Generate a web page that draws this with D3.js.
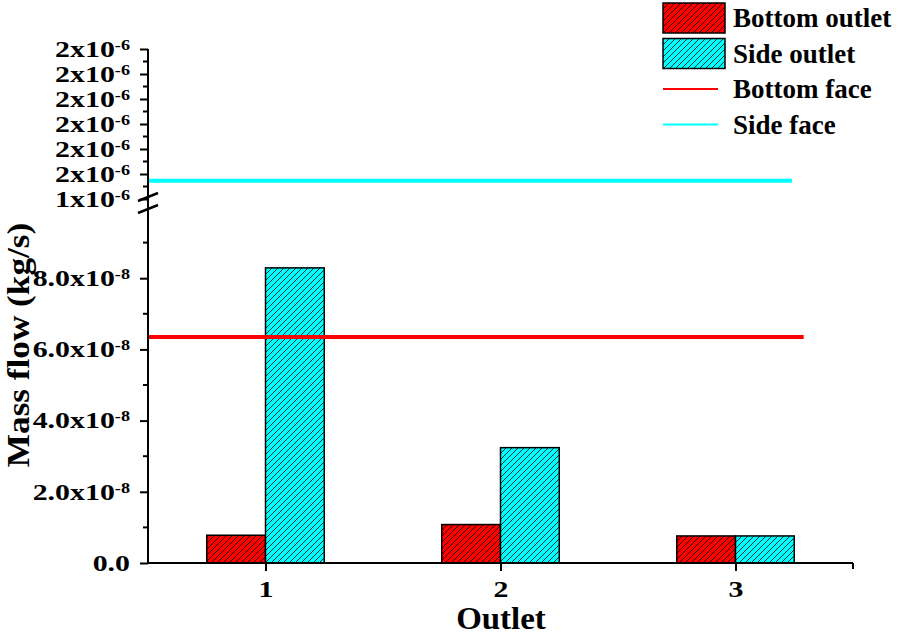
<!DOCTYPE html>
<html>
<head>
<meta charset="utf-8">
<script src="https://cdn.jsdelivr.net/npm/d3@7"></script>
<style>
  body { margin: 0; background: #fff; }
  text { font-family: "Liberation Serif", "Times New Roman", serif; font-weight: bold; fill: #000; }
</style>
</head>
<body>
<script>
const categories = [1, 2, 3]
const seriesNames = ['Bottom outlet', 'Side outlet']
const bottomOutlet = [7.8e-9, 1.08e-8, 7.6e-9]
const sideOutlet = [8.29e-8, 3.24e-8, 7.6e-9]
const bottomFace = [6.35e-8, 6.35e-8]
const bottomFaceX = [0.5, 3.29]
const sideFace = [1.473e-6, 1.473e-6]
const sideFaceX = [0.5, 3.24]
const lowTicks = [0, 2e-8, 4e-8, 6e-8, 8e-8]
const lowMinor = [1e-8, 3e-8, 5e-8, 7e-8, 9e-8]
const highTicks = [1.4e-6, 1.5e-6, 1.6e-6, 1.7e-6, 1.8e-6, 1.9e-6, 2.0e-6]
const highMinor = [1.45e-6, 1.55e-6, 1.65e-6, 1.75e-6, 1.85e-6, 1.95e-6]

const d3 = window.d3
const width = 898
const height = 636
const sx = 1.3 // the original fonts are drawn a bit wide

const xScale = d3.scaleLinear().domain([0.5, 3.5]).range([148, 853])
const yLow = d3.scaleLinear().domain([0, 1e-7]).range([563, 207])
const yHigh = d3.scaleLinear().domain([1.4e-6, 2.0e-6]).range([199, 49])
const yVal = (v) => v <= 1e-7 ? yLow(v) : yHigh(v)
const barW = 0.25

const svg = d3.select('body').append('svg')
  .attr('width', width)
  .attr('height', height)

const defs = svg.append('defs')
function hatch (id, color) {
  const p = defs.append('pattern')
    .attr('id', id)
    .attr('patternUnits', 'userSpaceOnUse')
    .attr('width', 6)
    .attr('height', 6)
  p.append('rect').attr('width', 6).attr('height', 6).attr('fill', color)
  p.append('path')
    .attr('d', 'M-1,1 l2,-2 M0,6 l6,-6 M5,7 l2,-2')
    .attr('stroke', '#000')
    .attr('stroke-width', 0.8)
}
hatch('hRed', '#ff0000')
hatch('hCyan', '#00ffff')

// bars
const barData = []
categories.forEach((c, i) => {
  barData.push({ x0: c - barW, v: bottomOutlet[i], fill: 'url(#hRed)' })
  barData.push({ x0: c, v: sideOutlet[i], fill: 'url(#hCyan)' })
})
svg.append('g').selectAll('rect')
  .data(barData)
  .join('rect')
  .attr('x', (d) => xScale(d.x0))
  .attr('width', (d) => xScale(d.x0 + barW) - xScale(d.x0))
  .attr('y', (d) => yVal(d.v))
  .attr('height', (d) => yLow(0) - yVal(d.v))
  .attr('fill', (d) => d.fill)
  .attr('stroke', '#000')
  .attr('stroke-width', 1.5)

// face lines
const line = d3.line().x((d) => xScale(d[0])).y((d) => yVal(d[1]))
svg.append('path')
  .datum(d3.zip(bottomFaceX, bottomFace))
  .attr('d', line)
  .attr('stroke', '#ff0000')
  .attr('stroke-width', 4)
  .attr('fill', 'none')
svg.append('path')
  .datum(d3.zip(sideFaceX, sideFace))
  .attr('d', line)
  .attr('stroke', '#00ffff')
  .attr('stroke-width', 4)
  .attr('fill', 'none')

// y axes
function supLabel (sel, base, exp) {
  sel.text(null)
    .attr('x', -18 / sx)
    .attr('transform', `scale(${sx},1)`)
    .style('font-size', '23px')
  sel.append('tspan').text(base)
  if (exp) {
    sel.append('tspan').attr('dy', '-0.5em').attr('font-size', '14px').text(exp)
  }
}

const axLow = svg.append('g')
  .attr('transform', 'translate(148,0)')
  .call(d3.axisLeft(yLow).tickValues(lowTicks).tickSize(8))
axLow.selectAll('.tick text')
  .each(function (d) {
    const sel = d3.select(this)
    if (d === 0) supLabel(sel, '0.0', null)
    else supLabel(sel, (d / 1e-8).toFixed(1) + 'x10', '-8')
  })
axLow.append('g').selectAll('line')
  .data(lowMinor)
  .join('line')
  .attr('x1', -5).attr('x2', 0)
  .attr('y1', (d) => yLow(d)).attr('y2', (d) => yLow(d))
  .attr('stroke', '#000').attr('stroke-width', 2)

const axHigh = svg.append('g')
  .attr('transform', 'translate(148,0)')
  .call(d3.axisLeft(yHigh).tickValues(highTicks).tickSize(8))
axHigh.selectAll('.tick text')
  .each(function (d) {
    supLabel(d3.select(this), Math.round(d / 1e-6) + 'x10', '-6')
  })
axHigh.append('g').selectAll('line')
  .data(highMinor)
  .join('line')
  .attr('x1', -5).attr('x2', 0)
  .attr('y1', (d) => yHigh(d)).attr('y2', (d) => yHigh(d))
  .attr('stroke', '#000').attr('stroke-width', 2)

svg.selectAll('.domain').remove()
svg.selectAll('.tick line').attr('stroke', '#000').attr('stroke-width', 2)

// continuous y axis line
svg.append('line')
  .attr('x1', 148).attr('x2', 148)
  .attr('y1', yHigh(2.0e-6)).attr('y2', yLow(0))
  .attr('stroke', '#000').attr('stroke-width', 2)

// break marks
const brk = svg.append('g')
;[yHigh(1.4e-6) - 2, yLow(1e-7) + 2].forEach((y) => {
  brk.append('line')
    .attr('x1', 138).attr('x2', 158)
    .attr('y1', y + 4).attr('y2', y - 4)
    .attr('stroke', '#000').attr('stroke-width', 2.5)
})

// x axis
const axX = svg.append('g')
  .attr('transform', `translate(0,${yLow(0)})`)
  .call(d3.axisBottom(xScale).tickValues(categories).tickSize(8).tickPadding(10).tickFormat(d3.format('d')))
axX.select('.domain').remove()
axX.selectAll('.tick line').attr('stroke', '#000').attr('stroke-width', 2)
axX.selectAll('.tick text')
  .style('font-size', '23px')
  .attr('transform', `scale(${sx},1)`)
axX.append('line')
  .attr('x1', xScale(0.5)).attr('x2', xScale(3.5))
  .attr('stroke', '#000').attr('stroke-width', 2)
axX.append('line')
  .attr('x1', xScale(3.5)).attr('x2', xScale(3.5))
  .attr('y1', 0).attr('y2', 6)
  .attr('stroke', '#000').attr('stroke-width', 2)

// titles
svg.append('text')
  .attr('transform', 'translate(501,629) scale(1.03,1)')
  .attr('text-anchor', 'middle')
  .style('font-size', '32px')
  .text('Outlet')
svg.append('text')
  .attr('transform', 'translate(29,345) rotate(-90) scale(1.1,1)')
  .attr('text-anchor', 'middle')
  .style('font-size', '32px')
  .text('Mass flow (kg/s)')

// legend
const legendItems = [
  { name: seriesNames[0], kind: 'box', fill: 'url(#hRed)' },
  { name: seriesNames[1], kind: 'box', fill: 'url(#hCyan)' },
  { name: 'Bottom face', kind: 'line', color: '#ff0000' },
  { name: 'Side face', kind: 'line', color: '#00ffff' }
]
const lg = svg.append('g')
legendItems.forEach((it, i) => {
  const cy = 18 + i * 35.5
  if (it.kind === 'box') {
    lg.append('rect')
      .attr('x', 663).attr('y', cy - 15)
      .attr('width', 62).attr('height', 30)
      .attr('fill', it.fill)
      .attr('stroke', '#000').attr('stroke-width', 1.5)
  } else {
    lg.append('line')
      .attr('x1', 663).attr('x2', 718)
      .attr('y1', cy).attr('y2', cy)
      .attr('stroke', it.color).attr('stroke-width', 2)
  }
  lg.append('text')
    .attr('x', 733).attr('y', cy + 9)
    .style('font-size', '27px')
    .text(it.name)
})
</script>
</body>
</html>
